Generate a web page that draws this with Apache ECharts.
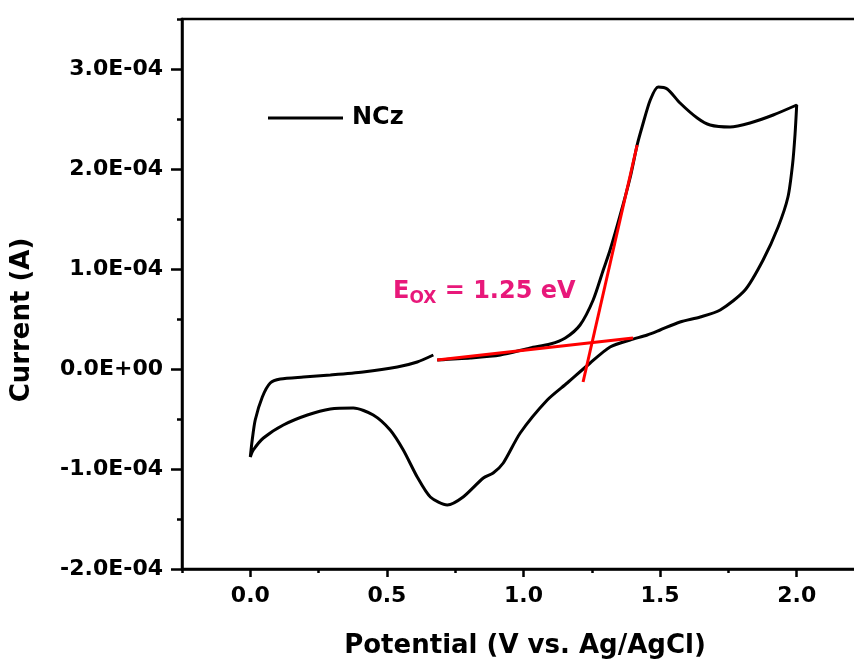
<!DOCTYPE html>
<html><head><meta charset="utf-8">
<script src="https://cdn.jsdelivr.net/npm/echarts@6/dist/echarts.min.js"></script>
<style>html,body{margin:0;padding:0;background:#fff}#c{width:854px;height:662px}</style>
</head><body><div id="c"></div>
<script>
// Cyclic voltammogram of NCz (potential in V, current in A)
const potentialNCz = [
  0.684, 0.805, 0.915, 1.025, 1.098, 1.153, 1.207, 1.255, 1.292, 1.317, 1.354, 1.390, 1.416, 1.434,
  1.464, 1.493, 1.526, 1.573, 1.636, 1.683, 1.756, 1.829, 1.914, 2.000,
  1.994, 1.985, 1.968, 1.932, 1.877, 1.811, 1.720, 1.647, 1.573, 1.500, 1.453, 1.390, 1.317, 1.244,
  1.160, 1.087, 0.988, 0.926, 0.889, 0.853, 0.779, 0.721, 0.659, 0.611, 0.560, 0.512, 0.450, 0.377,
  0.293, 0.209, 0.121, 0.048, 0.011, 0.000,
  0.007, 0.018, 0.044, 0.073, 0.110, 0.194, 0.293, 0.413, 0.538, 0.611, 0.670
];
const currentNCz = [
  9e-6, 11e-6, 14e-6, 21e-6, 25e-6, 31e-6, 44e-6, 69e-6, 99e-6, 119e-6, 154e-6, 191e-6, 224e-6, 242e-6,
  269e-6, 282e-6, 280e-6, 266e-6, 251e-6, 244e-6, 242e-6, 246e-6, 254e-6, 264e-6,
  235e-6, 205e-6, 172e-6, 142e-6, 109e-6, 79e-6, 59e-6, 52e-6, 47e-6, 39e-6, 34e-6, 29e-6, 22e-6, 6e-6,
  -14e-6, -31e-6, -64e-6, -94e-6, -104e-6, -109e-6, -128e-6, -136e-6, -128e-6, -108e-6, -81e-6, -61e-6, -46e-6, -39e-6,
  -40e-6, -46e-6, -56e-6, -69e-6, -81e-6, -88e-6,
  -71e-6, -51e-6, -28e-6, -14e-6, -10e-6, -8e-6, -6e-6, -3e-6, 2e-6, 7e-6, 14e-6
];
// Onset tangent lines
const baselineV = [0.684, 1.401];
const baselineI = [9e-6, 31e-6];
const riseV = [1.218, 1.416];
const riseI = [-13e-6, 224e-6];

const xTickLabels = ['0.0', '0.5', '1.0', '1.5', '2.0'];
const yTickLabels = ['-2.0E-04', '-1.0E-04', '0.0E+00', '1.0E-04', '2.0E-04', '3.0E-04'];
const seriesName = 'NCz';
const annotation = { main: 'E', sub: 'OX', rest: ' = 1.25 eV' };
const xTitle = 'Potential (V vs. Ag/AgCl)';
const yTitle = 'Current (A)';

const zip = (a, b) => a.map((v, i) => [v, b[i]]);
const FONT = 'DejaVu Sans';
const chart = echarts.init(document.getElementById('c'), null, { renderer: 'canvas' });

chart.setOption({
  animation: false,
  backgroundColor: '#ffffff',
  grid: [
    { left: 182, top: 19, width: 683, height: 550, show: true, borderColor: '#000', borderWidth: 2.5, outerBoundsMode: 'none', containLabel: false },
    { left: 250.33, top: 69, width: 614.67, height: 500, show: false, outerBoundsMode: 'none', containLabel: false }
  ],
  xAxis: [
    { gridIndex: 0, type: 'value', min: -0.25, max: 2.25, interval: 0.25, position: 'bottom',
      axisLine: { show: true, onZero: false, lineStyle: { color: '#000', width: 2.5 } },
      axisTick: { show: true, inside: false, length: 4, lineStyle: { color: '#000', width: 2.5 } },
      axisLabel: { show: false }, splitLine: { show: false } },
    { gridIndex: 1, type: 'value', min: 0, max: 2.25, interval: 0.5, position: 'bottom',
      axisLine: { show: false, onZero: false },
      axisTick: { show: true, inside: false, length: 8, lineStyle: { color: '#000', width: 2.5 } },
      axisLabel: { show: true, margin: 16, color: '#000', fontFamily: FONT, fontWeight: 'bold', fontSize: 22,
        formatter: v => { const k = Math.round(v / 0.5); return k >= 0 && k < xTickLabels.length && Math.abs(v - k * 0.5) < 1e-9 ? xTickLabels[k] : ''; } },
      splitLine: { show: false } }
  ],
  yAxis: [
    { gridIndex: 0, type: 'value', min: -2e-4, max: 3.5e-4, interval: 0.5e-4, position: 'left',
      axisLine: { show: true, onZero: false, lineStyle: { color: '#000', width: 2.5 } },
      axisTick: { show: true, inside: false, length: 5, lineStyle: { color: '#000', width: 2.5 } },
      axisLabel: { show: false }, splitLine: { show: false } },
    { gridIndex: 1, type: 'value', min: -2e-4, max: 3e-4, interval: 1e-4, offset: 68.33, position: 'left',
      axisLine: { show: false, onZero: false },
      axisTick: { show: true, inside: false, length: 11, lineStyle: { color: '#000', width: 2.5 } },
      axisLabel: { show: true, margin: 19, color: '#000', fontFamily: FONT, fontWeight: 'bold', fontSize: 22,
        formatter: v => { const k = Math.round(v / 1e-4) + 2; return yTickLabels[k] || ''; } },
      splitLine: { show: false } }
  ],
  legend: {
    data: [{ name: seriesName, icon: 'rect' }],
    left: 268, top: 106, padding: 0, itemWidth: 75, itemHeight: 3,
    textStyle: { color: '#000', fontFamily: FONT, fontWeight: 'bold', fontSize: 24, padding: [0, 0, 0, 4] }
  },
  series: [
    { name: seriesName, type: 'line', xAxisIndex: 0, yAxisIndex: 0, data: zip(potentialNCz, currentNCz),
      showSymbol: false, symbol: 'none', smooth: 0.25, lineStyle: { color: '#000', width: 3 }, itemStyle: { color: '#000' } },
    { name: 'baseline', type: 'line', xAxisIndex: 0, yAxisIndex: 0, data: zip(baselineV, baselineI),
      symbol: 'none', lineStyle: { color: '#f00', width: 3 }, silent: true },
    { name: 'rise', type: 'line', xAxisIndex: 0, yAxisIndex: 0, data: zip(riseV, riseI),
      symbol: 'none', lineStyle: { color: '#f00', width: 3 }, silent: true }
  ],
  graphic: [
    { type: 'text', x: 525, y: 646, style: { text: xTitle, fill: '#000', font: 'bold 26px "DejaVu Sans"', align: 'center', verticalAlign: 'middle' } },
    { type: 'text', x: 22, y: 320, rotation: Math.PI / 2, style: { text: yTitle, fill: '#000', font: 'bold 26px "DejaVu Sans"', align: 'center', verticalAlign: 'middle' } },
    { type: 'text', x: 393, y: 292, style: {
        text: '{a|' + annotation.main + '}{b|' + annotation.sub + '}{a|' + annotation.rest + '}',
        align: 'left', verticalAlign: 'middle',
        rich: {
          a: { fill: '#e8187a', fontFamily: FONT, fontWeight: 'bold', fontSize: 24, lineHeight: 30 },
          b: { fill: '#e8187a', fontFamily: FONT, fontWeight: 'bold', fontSize: 17, lineHeight: 17, verticalAlign: 'bottom' }
        } } }
  ]
});
</script></body></html>
